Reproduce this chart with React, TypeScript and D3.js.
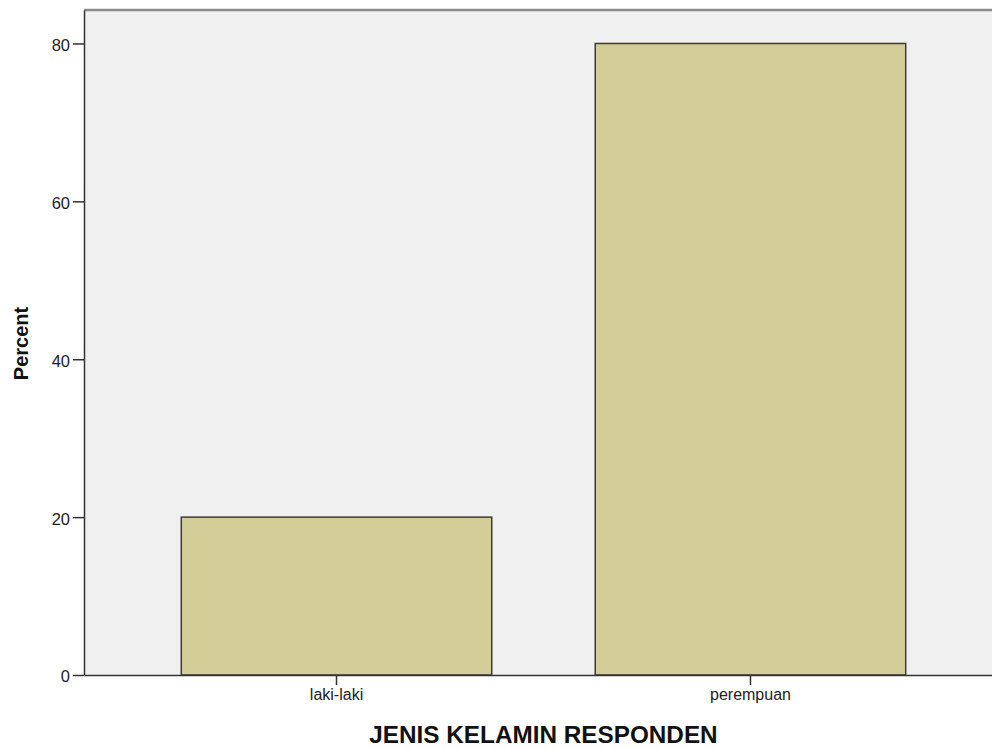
import { useEffect, useRef } from 'react'
import * as d3 from 'd3'

const categories = ['laki-laki', 'perempuan']
const percents = [20, 80]
const yTicks = [0, 20, 40, 60, 80]
const xTitle = 'JENIS KELAMIN RESPONDEN'
const yTitle = 'Percent'

export default function App() {
  const svgRef = useRef<SVGSVGElement>(null)
  const width = 992
  const height = 748

  useEffect(() => {
    if (!svgRef.current) return
    const svg = d3.select(svgRef.current)
    svg.selectAll('*').remove()

    // plot frame (right side runs past the picture edge, as in the original)
    const left = 84
    const right = 1003
    const top = 10
    const bottom = 675

    const x = d3
      .scaleBand<string>()
      .domain(categories)
      .range([left, right])
      .paddingInner(0.25)
      .paddingOuter(0.235)

    const y = d3
      .scaleLinear()
      .domain([0, 84.24])
      .range([bottom, top])

    // background
    svg
      .append('rect')
      .attr('x', left)
      .attr('y', top)
      .attr('width', right - left)
      .attr('height', bottom - top)
      .attr('fill', '#f0f0f0')

    // top border
    svg
      .append('line')
      .attr('x1', left)
      .attr('x2', right)
      .attr('y1', top)
      .attr('y2', top)
      .attr('stroke', '#8a8a8a')
      .attr('stroke-width', 2.5)

    // bars
    svg
      .selectAll('rect.bar')
      .data(categories)
      .enter()
      .append('rect')
      .attr('class', 'bar')
      .attr('x', (d) => x(d) || 0)
      .attr('y', (_, i) => y(percents[i]))
      .attr('width', x.bandwidth())
      .attr('height', (_, i) => bottom - y(percents[i]))
      .attr('fill', '#d3ce98')
      .attr('stroke', '#3c3c3c')
      .attr('stroke-width', 1.5)

    // y axis
    const yAxis = d3
      .axisLeft(y)
      .tickValues(yTicks)
      .tickSize(11)
      .tickSizeOuter(0)
      .tickPadding(3)
      .tickFormat((d) => String(d))
    const gy = svg
      .append('g')
      .attr('transform', `translate(${left},0)`)
      .call(yAxis)
    gy.select('.domain').attr('stroke', '#333').attr('stroke-width', 1.5)
    gy.selectAll('.tick line').attr('stroke', '#333').attr('stroke-width', 1.5)
    gy.selectAll('.tick text')
      .attr('font-family', 'Liberation Sans, Arial, sans-serif')
      .attr('font-size', 16.5)
      .attr('fill', '#222')
      .attr('dy', '0.42em')

    // x axis
    const xAxis = d3.axisBottom(x).tickSize(10).tickSizeOuter(0).tickPadding(4)
    const gx = svg
      .append('g')
      .attr('transform', `translate(0,${bottom})`)
      .call(xAxis)
    gx.select('.domain').attr('stroke', '#333').attr('stroke-width', 1.5)
    gx.selectAll('.tick line').attr('stroke', '#333').attr('stroke-width', 1.5)
    gx.selectAll('.tick text')
      .attr('font-family', 'Liberation Sans, Arial, sans-serif')
      .attr('font-size', 16)
      .attr('fill', '#222')

    // axis titles
    svg
      .append('text')
      .attr('x', (left + right) / 2)
      .attr('y', 743)
      .attr('text-anchor', 'middle')
      .attr('font-family', 'Liberation Sans, Arial, sans-serif')
      .attr('font-weight', 'bold')
      .attr('font-size', 24.3)
      .attr('fill', '#111')
      .text(xTitle)

    svg
      .append('text')
      .attr('transform', `translate(28,${(top + bottom) / 2 + 1}) rotate(-90)`)
      .attr('text-anchor', 'middle')
      .attr('font-family', 'Liberation Sans, Arial, sans-serif')
      .attr('font-weight', 'bold')
      .attr('font-size', 20)
      .attr('fill', '#111')
      .text(yTitle)
  }, [])

  return (
    <div style={{ position: 'absolute', left: 0, top: 0, width, height, background: '#fff', overflow: 'hidden' }}>
      <svg ref={svgRef} width={width} height={height} style={{ display: 'block' }} />
    </div>
  )
}
